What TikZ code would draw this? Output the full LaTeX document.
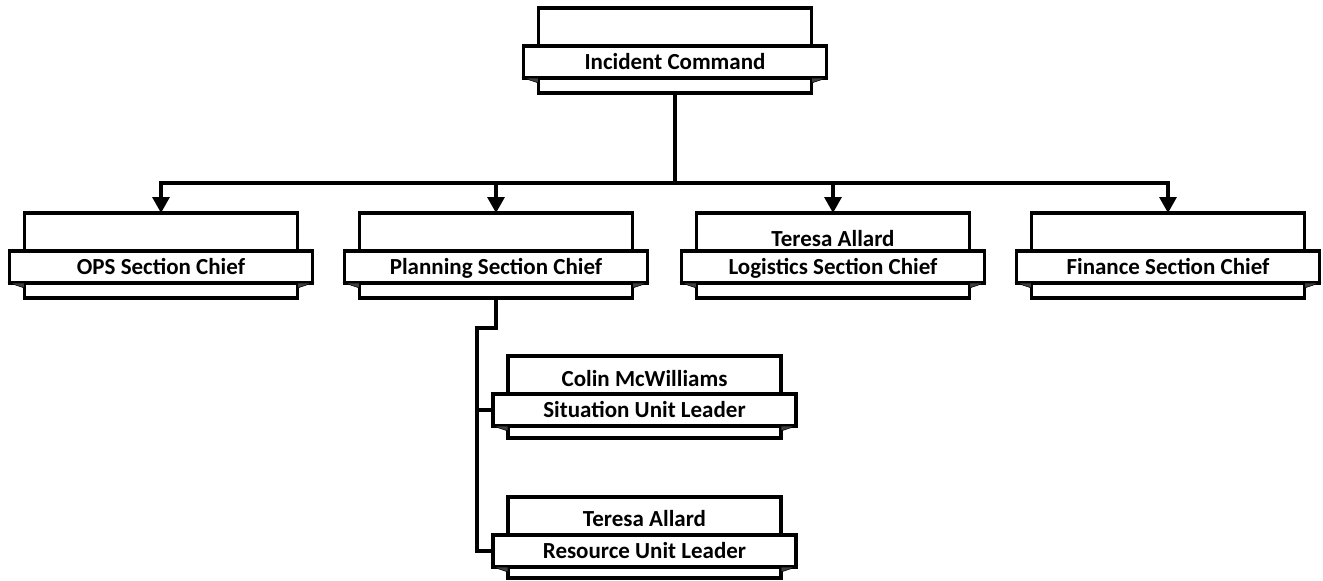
\documentclass[tikz,border=0pt]{standalone}
\usepackage{fontspec}
\setmainfont{Carlito}
\usetikzlibrary{arrows.meta,calc}
\tikzset{
  backbox/.style={draw, line width=3.2pt, fill=white, minimum width=273pt, inner sep=0pt, outer sep=0pt, anchor=north},
  bandbox/.style={draw, line width=3.2pt, fill=white, minimum width=303pt, minimum height=32pt, inner sep=0pt, outer sep=0pt, text height=15pt, text depth=0pt, font=\fontsize{23}{27}\selectfont\bfseries},
  toptext/.style={inner sep=0pt, text height=15pt, text depth=0pt, font=\fontsize{23}{27}\selectfont\bfseries},
  conn/.style={line width=3.2pt},
  arr/.style={conn, -{Triangle[width=17pt,length=16pt]}},
  fold/.style={fill=black!75, draw=black, line width=0.6pt}
}
\newcommand\orgbox[5]{%
  \node[backbox, minimum height=#4pt] (#1) at (#2,#3) {};
  \node[bandbox] (#1b) at ($(#1.north)+(0,54)$) {#5};
  \fill[fold] (#1b.south west) -- (#1.west |- #1b.south) -- ($(#1.west |- #1b.south)+(0,5)$) -- cycle;
  \fill[fold] (#1b.south east) -- (#1.east |- #1b.south) -- ($(#1.east |- #1b.south)+(0,5)$) -- cycle;
}
\begin{document}
\begin{tikzpicture}[x=1pt, y=-1pt]
  \useasboundingbox (0,0) rectangle (1323,581);
  \orgbox{ic}{675}{8}{85}{Incident Command}
  \orgbox{ops}{161}{213}{85}{OPS Section Chief}
  \orgbox{plan}{496}{213}{85}{Planning Section Chief}
  \orgbox{log}{833}{213}{85}{Logistics Section Chief}
  \orgbox{fin}{1168}{213}{85}{Finance Section Chief}
  \orgbox{sit}{644.5}{356}{82}{Situation Unit Leader}
  \orgbox{res}{644.5}{497}{81}{Resource Unit Leader}
  \node[toptext] (logt) at ($(log.north)+(0,26)$) {Teresa Allard};
  \node[toptext] (sitt) at ($(sit.north)+(0,22.5)$) {Colin McWilliams};
  \node[toptext] (rest) at ($(res.north)+(0,22)$) {Teresa Allard};
  % connectors
  \coordinate (bus) at (675,183);
  \coordinate (p2) at (477,328);
  \draw[conn] (ic.south) -- (bus);
  \draw[arr] (bus) -| (ops.north);
  \draw[arr] (bus) -| (plan.north);
  \draw[arr] (bus) -| (log.north);
  \draw[arr] (bus) -| (fin.north);
  \draw[conn] (plan.south) |- (p2) -- (p2 |- resb.west) -- (resb.west);
  \draw[conn] (p2 |- sitb.west) -- (sitb.west);
\end{tikzpicture}
\end{document}
